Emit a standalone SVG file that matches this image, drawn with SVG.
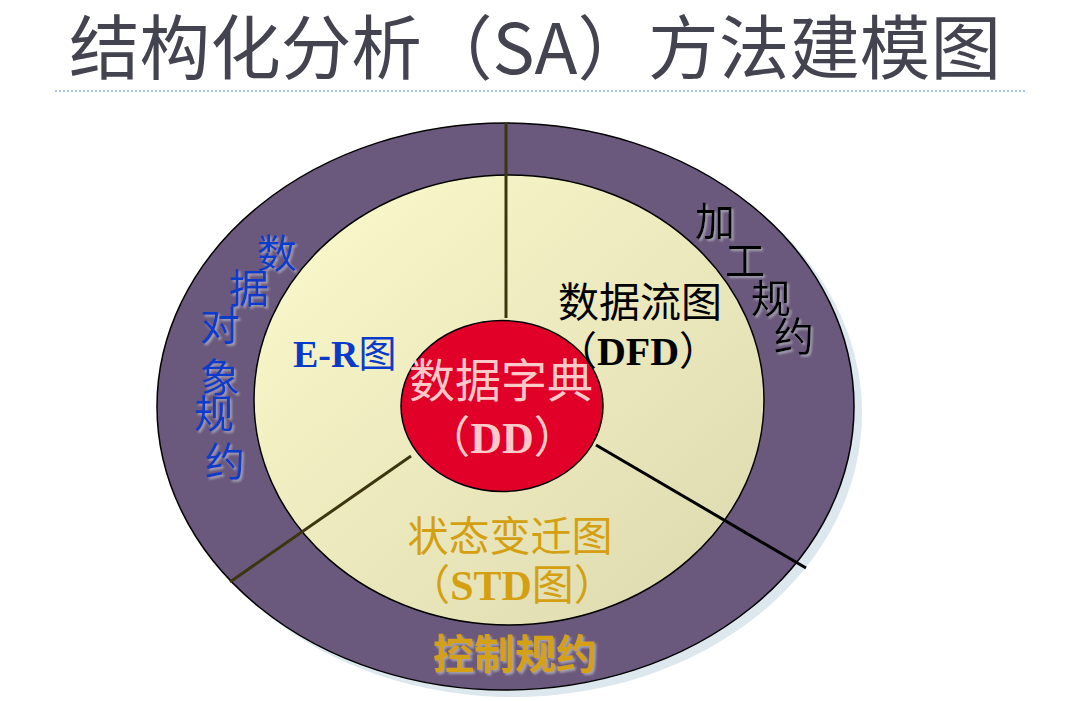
<svg xmlns="http://www.w3.org/2000/svg" width="1076" height="701" viewBox="0 0 1076 701">
  <defs>
    <linearGradient id="yel" x1="0" y1="0" x2="1" y2="1">
      <stop offset="0" stop-color="#fcfbcd"/>
      <stop offset="1" stop-color="#dbd8ad"/>
    </linearGradient>
    <filter id="ts" x="-20%" y="-20%" width="140%" height="140%">
      <feDropShadow dx="2" dy="2" stdDeviation="0.8" flood-color="#a8a8b4" flood-opacity="0.9"/>
    </filter>
  </defs>
  <style>
    .cjk { font-family: "Noto Sans CJK SC", "Noto Sans", sans-serif; }
    .mix { font-family: "Liberation Serif", "Noto Sans CJK SC", serif; }
    .lat { font-family: "Liberation Serif", serif; font-weight: bold; }
    .par { font-family: "Noto Sans CJK SC", sans-serif; font-weight: normal; }
    .blue { fill: #0a3acb; font-size: 40px; filter: url(#ts); }
    .blk { fill: #000000; font-size: 40px; filter: url(#ts); }
    .gold { fill: #d4a012; }
    .ln { stroke-width: 3; fill: none; }
  </style>
  <rect width="1076" height="701" fill="#ffffff"/>

  <g id="title">
    <text class="cjk" x="69" y="74" font-size="70" font-weight="400" fill="#444450" textLength="932" lengthAdjust="spacingAndGlyphs">结构化分析（SA）方法建模图</text>
    <line x1="55" y1="91" x2="1025" y2="91" stroke="#a9c4dc" stroke-width="2" stroke-dasharray="2 2"/>
  </g>

  <g id="outer-ring">
    <ellipse cx="513" cy="413" rx="349" ry="284" fill="#dce8ee"/>
    <ellipse cx="505.5" cy="406.5" rx="348.5" ry="283.5" fill="#6b587d" stroke="#000" stroke-width="1.5"/>
  </g>
  <g id="inner-area">
    <ellipse cx="509" cy="400" rx="255" ry="225" fill="url(#yel)" stroke="#000" stroke-width="1.5"/>
  </g>

  <g id="connectors">
    <line class="ln" x1="506" y1="123" x2="506" y2="318" stroke="#3d3510"/>
    <line class="ln" x1="411" y1="456" x2="230" y2="582" stroke="#3d3510"/>
    <line class="ln" x1="596" y1="445" x2="806" y2="568" stroke="#000000"/>
  </g>

  <g id="dd">
    <ellipse cx="502" cy="406" rx="101" ry="85.5" fill="#e00028" stroke="#000" stroke-width="1.5"/>
    <text class="cjk" x="501" y="397" font-size="46" fill="#ffc9c9" text-anchor="middle">数据字典</text>
    <text class="mix" x="502" y="453" font-size="44" fill="#ffc9c9" text-anchor="middle"><tspan class="par">（</tspan><tspan class="lat">DD</tspan><tspan class="par">）</tspan></text>
  </g>

  <g id="dfd">
    <text class="cjk" x="640" y="317" font-size="41" fill="#000" text-anchor="middle">数据流图</text>
    <text class="mix" x="638" y="365" font-size="40" fill="#000" text-anchor="middle"><tspan class="par">（</tspan><tspan class="lat">DFD</tspan><tspan class="par">）</tspan></text>
  </g>

  <g id="er">
    <text class="mix" x="293" y="367" font-size="38" fill="#0a3acb"><tspan class="lat">E-R</tspan><tspan class="par">图</tspan></text>
  </g>

  <g id="std">
    <text class="cjk gold" x="510" y="551" font-size="41" text-anchor="middle">状态变迁图</text>
    <text class="mix gold" x="512" y="600" font-size="42" text-anchor="middle"><tspan class="par">（</tspan><tspan class="lat">STD</tspan><tspan class="par">图）</tspan></text>
  </g>

  <g id="data-object-spec" class="cjk blue" text-anchor="middle">
    <text x="277" y="268">数</text>
    <text x="249" y="303">据</text>
    <text x="220" y="340">对</text>
    <text x="220" y="392">象</text>
    <text x="214" y="428">规</text>
    <text x="225" y="476">约</text>
  </g>

  <g id="process-spec" class="cjk blk" text-anchor="middle">
    <text x="715" y="236">加</text>
    <text x="745" y="275">工</text>
    <text x="771" y="313">规</text>
    <text x="794" y="351">约</text>
  </g>

  <g id="control-spec">
    <text class="cjk gold" x="515" y="669" font-size="41" font-weight="bold" text-anchor="middle" filter="url(#ts)">控制规约</text>
  </g>
</svg>
